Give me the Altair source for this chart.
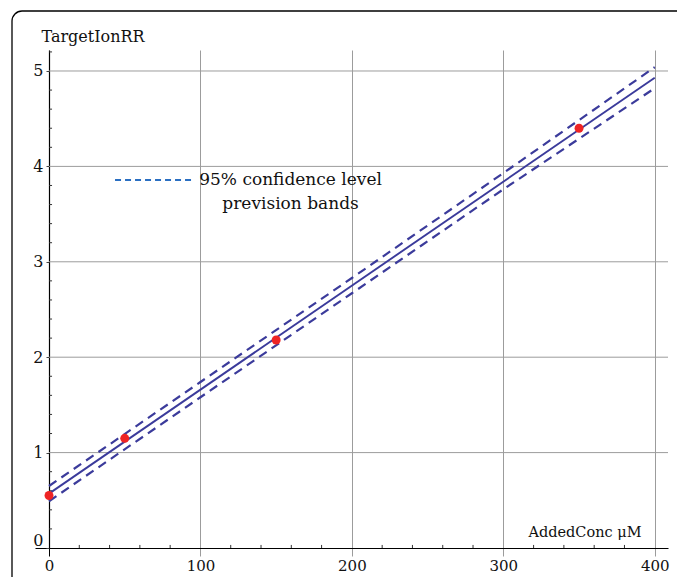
import altair as alt
import pandas as pd

# ---- data ----
conc = [0, 50, 150, 350]
ratio = [0.55, 1.15, 2.18, 4.40]

fit_conc = [0, 400]
fit_ratio = [0.57, 4.93]

band_conc = [0, 100, 200, 300, 400]
band_upper = [0.65, 1.74, 2.83, 3.93, 5.04]
band_lower = [0.49, 1.58, 2.67, 3.76, 4.82]

x_ticks = [0, 100, 200, 300, 400]
y_ticks = [0, 1, 2, 3, 4, 5]
x_minor = [20, 40, 60, 80, 120, 140, 160, 180, 220, 240, 260, 280, 320, 340, 360, 380]
y_minor = [0.2, 0.4, 0.6, 0.8, 1.2, 1.4, 1.6, 1.8, 2.2, 2.4, 2.6, 2.8,
           3.2, 3.4, 3.6, 3.8, 4.2, 4.4, 4.6, 4.8, 5.2]
grid_y = [1, 2, 3, 4, 5]

legend_lines = ["95% confidence level", "prevision bands"]
legend_line_y = [3.857, 3.606]
legend_text_x = 159.5
legend_dash_x = [43.6, 96.4]

x_domain = [-9.25, 408.75]
y_domain = [0, 5.22]

FONT = "DejaVu Serif"
TXT = "#111111"
GRID = "#9c9c9c"
NAVY = "#3b3b9b"

XS = alt.Scale(domain=x_domain, nice=False, zero=False)
YS = alt.Scale(domain=y_domain, nice=False, zero=False)

x_axis = alt.Axis(
    values=x_ticks, title="AddedConc μM", grid=True, gridColor=GRID, gridWidth=1,
    domainColor="black", domainWidth=1.2, tickSize=8, tickWidth=1,
    tickColor={"condition": {"test": "datum.value == 0", "value": "black"}, "value": GRID},
    labelFont=FONT, labelFontSize=15, labelColor=TXT, labelPadding=2, labelFlush=False,
    titleFont=FONT, titleFontSize=14.5, titleFontWeight="normal", titleColor=TXT,
    titleX=606, titleY=-12, titleAlign="right", titleBaseline="alphabetic",
)
y_axis = alt.Axis(
    values=y_ticks, title="TargetIonRR", grid=False, offset=-14,
    domainColor="black", domainWidth=1.2, tickSize=3, tickColor="#444", tickWidth=1,
    labelFont=FONT, labelFontSize=16, labelColor=TXT, labelPadding=3, labelFlush=True,
    titleFont=FONT, titleFontSize=16, titleFontWeight="normal", titleColor=TXT,
    titleAngle=0, titleX=-8, titleY=-9, titleAlign="left", titleBaseline="alphabetic",
)


def X(field="x"):
    return alt.X(field, type="quantitative", scale=XS, axis=x_axis)


def Y(field="y"):
    return alt.Y(field, type="quantitative", scale=YS, axis=y_axis)


frame = alt.Chart(pd.DataFrame({"a": [0]})).mark_rect(
    fillOpacity=0, stroke="black", strokeWidth=1.3, cornerRadius=10
).encode(x=alt.value(-23), y=alt.value(-39), x2=alt.value(720), y2=alt.value(640))

hgrid = alt.Chart(pd.DataFrame({"y": grid_y, "x": 0, "x2": x_domain[1]})).mark_rule(
    color=GRID, strokeWidth=1
).encode(x=X(), x2="x2", y=Y())

xminor = alt.Chart(pd.DataFrame({"x": x_minor, "y": 0, "y2": 0.032})).mark_rule(
    color="#333", strokeWidth=1
).encode(x=X(), y=Y(), y2="y2")

yminor = alt.Chart(pd.DataFrame({"y": y_minor, "x": 0, "x2": 2.0})).mark_rule(
    color="#333", strokeWidth=1
).encode(x=X(), x2="x2", y=Y())

legend_dash = alt.Chart(pd.DataFrame({"x": [legend_dash_x[0]], "x2": [legend_dash_x[1]],
                                      "y": [legend_line_y[0]]})).mark_rule(
    color="#2a6fc2", strokeWidth=2, strokeDash=[6, 4]
).encode(x=X(), x2="x2", y=Y())

legend_text = alt.Chart(pd.DataFrame({"t": legend_lines, "x": legend_text_x,
                                      "y": legend_line_y})).mark_text(
    font=FONT, fontSize=17, color=TXT, align="center", baseline="middle"
).encode(x=X(), y=Y(), text="t")

bands = pd.DataFrame({
    "x": band_conc * 2,
    "y": band_upper + band_lower,
    "band": ["upper"] * len(band_conc) + ["lower"] * len(band_conc),
})
band_lines = alt.Chart(bands).mark_line(
    color=NAVY, strokeWidth=2.2, strokeDash=[9, 6]
).encode(x=X(), y=Y(), detail="band")

fit = alt.Chart(pd.DataFrame({"x": fit_conc, "y": fit_ratio})).mark_line(
    color=NAVY, strokeWidth=1.9
).encode(x=X(), y=Y())

points = alt.Chart(pd.DataFrame({"x": conc, "y": ratio})).mark_point(
    filled=True, color="#ee2424", size=80, opacity=1
).encode(x=X(), y=Y())

chart = alt.layer(
    frame, hgrid, xminor, yminor, legend_dash, legend_text, band_lines, fit, points
).properties(
    width=633, height=498,
    padding={"left": 27, "top": 42, "right": 9, "bottom": 29},
    autosize=alt.AutoSizeParams(type="none"),
    background="white",
).configure_view(stroke=None)

chart.save("out.html", embed_options={"renderer": "svg", "actions": False})
